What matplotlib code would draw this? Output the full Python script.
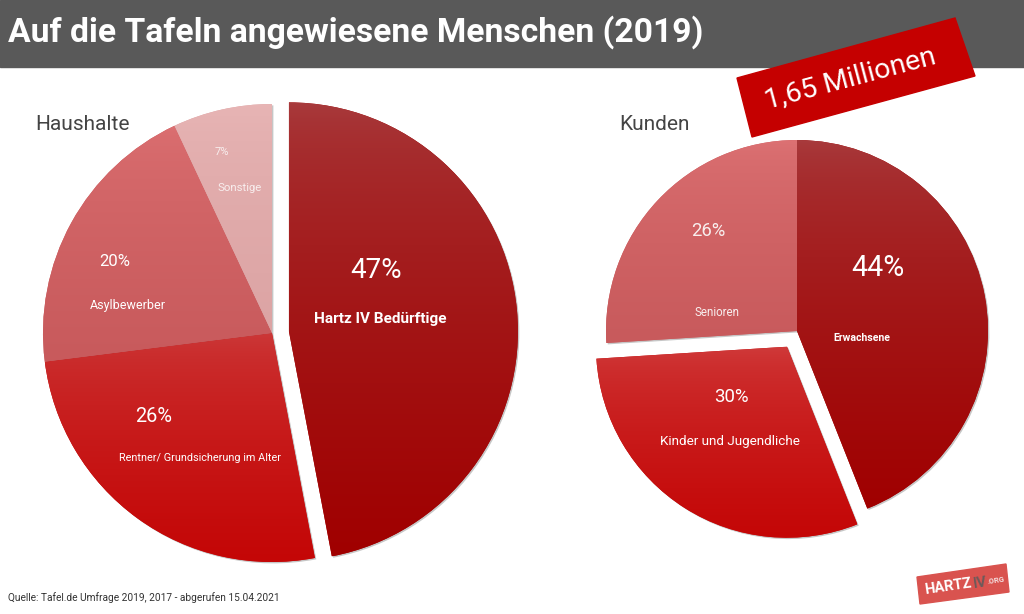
import numpy as np
import matplotlib
matplotlib.use("Agg")
import matplotlib.pyplot as plt
import matplotlib.patheffects as pe
from matplotlib.patches import Rectangle, Polygon

# Values, clockwise from 12 o'clock.
haushalte_labels = ["Hartz IV Bedürftige", "Rentner/ Grundsicherung im Alter", "Asylbewerber", "Sonstige"]
haushalte_values = [47, 26, 20, 7]
kunden_labels = ["Erwachsene", "Kinder und Jugendliche", "Senioren"]
kunden_values = [44, 30, 26]

# Top and bottom colour of each wedge's gradient.
haushalte_colors = [("#a83c3e", "#a00000"), ("#cc3a3a", "#c40606"), ("#dc7072", "#c85a5c"), ("#e8b6b6", "#dca4a4")]
kunden_colors = [("#a83c3e", "#a00000"), ("#d03c3c", "#c40606"), ("#dd7274", "#c85a5c")]

plt.rcParams["font.family"] = ["Roboto", "DejaVu Sans"]

W, H = 1024, 614
fig = plt.figure(figsize=(W / 100, H / 100), dpi=100)
ax = fig.add_axes([0, 0, 1, 1])


def gradient_pie(values, colors, center, radius, explode):
    # pie() takes explode in data units here, and the axes are in pixels.
    wedges, _ = ax.pie(values, explode=explode, center=(center[0], H - center[1]),
                       radius=radius, startangle=90, counterclock=False, frame=True)
    for wedge, (top, bottom) in zip(wedges, colors):
        wedge.set_facecolor(bottom)
        wedge.set_edgecolor("none")
        wedge.set_zorder(1)
        wedge.set_path_effects([pe.SimplePatchShadow(offset=(1, -1), shadow_rgbFace="#444444", alpha=0.3), pe.Normal()])
        # Fill the wedge with a vertical gradient clipped to its outline.
        box = wedge.get_window_extent()
        y0, y1 = ax.transData.inverted().transform([(0, box.y0), (0, box.y1)])[:, 1]
        x0, x1 = ax.transData.inverted().transform([(box.x0, 0), (box.x1, 0)])[:, 0]
        c0 = np.array(matplotlib.colors.to_rgb(top))
        c1 = np.array(matplotlib.colors.to_rgb(bottom))
        # Power curve: the picture's gradients reach the dark colour early.
        t = (np.linspace(0, 1, 256) ** 0.6)[:, None, None]
        img = c0[None, None, :] * (1 - t) + c1[None, None, :] * t
        im = ax.imshow(img, extent=(x0, x1, y0, y1), aspect="auto", zorder=2, origin="upper")
        im.set_clip_path(wedge)


ax.set_xlim(0, W)
ax.set_ylim(0, H)
gradient_pie(haushalte_values, haushalte_colors, (272, 333), 229, [17, 0, 0, 0])
gradient_pie(kunden_values, kunden_colors, (797, 331), 191, [0, 18.6, 0])
ax.set_xlim(0, W)
ax.set_ylim(0, H)
ax.set_aspect("auto")
ax.axis("off")


def label(x, y, s, size, color="white", weight="normal", ha="center", rotation=0, zorder=5):
    ax.text(x, H - y, s, fontsize=size, color=color, fontweight=weight, ha=ha, va="center",
            rotation=rotation, rotation_mode="anchor", zorder=zorder)


# Header band
ax.add_patch(Rectangle((0, H - 67), W, 67, color="#595959", zorder=3))
label(8, 32, "Auf die Tafeln angewiesene Menschen (2019)", 24.2, weight="bold", ha="left")

# Red banner
ax.add_patch(Polygon([(737, H - 78), (955, H - 18), (975, H - 76), (752, H - 137)],
                     closed=True, color="#c50000", zorder=4))
label(850, 78, "1,65 Millionen", 20.5, rotation=15)

# Pie headings
label(35, 124, "Haushalte", 15, color="#444444", ha="left")
label(619, 124, "Kunden", 15, color="#444444", ha="left")

# Haushalte labels
label(376, 271, f"{haushalte_values[0]}%", 20)
label(380, 319, haushalte_labels[0], 11, weight="bold")
label(154, 417, f"{haushalte_values[1]}%", 14.4)
label(200, 458, haushalte_labels[1], 7.8)
label(115, 262, f"{haushalte_values[2]}%", 12)
label(128, 306, haushalte_labels[2], 9)
label(222, 152, f"{haushalte_values[3]}%", 8, color="#f8eeee")
label(240, 188, haushalte_labels[3], 8.2, color="#f8eeee")

# Kunden labels
label(878, 268, f"{kunden_values[0]}%", 20.6)
label(862, 338, kunden_labels[0], 7.6, weight="bold")
label(731, 397, f"{kunden_values[1]}%", 13.4)
label(730, 442, kunden_labels[1], 9.7)
label(708, 231, f"{kunden_values[2]}%", 13.3, color="#f8eeee")
label(717, 313, kunden_labels[2], 8.3, color="#f8eeee")

# Source line and logo
label(8, 598, "Quelle: Tafel.de Umfrage 2019, 2017 - abgerufen 15.04.2021", 7.3, color="#333333", ha="left")
ax.add_patch(Polygon([(917, H - 577), (1006, H - 564), (1009, H - 592), (920, H - 604)],
                     closed=True, color="#d9534f", zorder=4))
label(925, 590, "HARTZ", 10.5, weight="bold", ha="left", rotation=8.3)
label(973, 584, "IV", 10.5, color="#6e5a5a", weight="bold", ha="left", rotation=8.3)
label(987, 582, ".ORG", 5.5, color="#f4dcdc", weight="bold", ha="left", rotation=8.3)

fig.savefig("out.png", dpi=100)
